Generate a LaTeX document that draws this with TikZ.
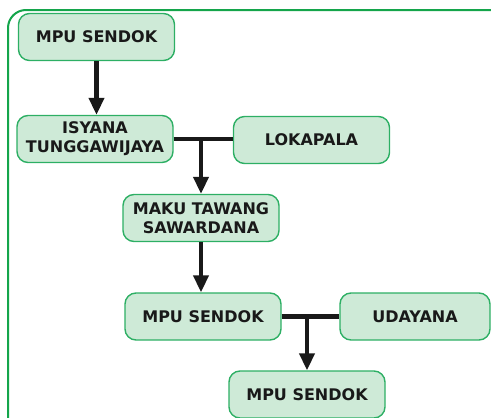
\documentclass[tikz,border=0pt]{standalone}
\usepackage{fontspec}
\setmainfont{DejaVu Sans}
\usetikzlibrary{arrows.meta}

\definecolor{boxfill}{RGB}{206,234,215}
\definecolor{boxline}{RGB}{45,175,100}
\definecolor{framegreen}{RGB}{20,165,75}

\tikzset{
  person/.style={draw=boxline, line width=1.4pt, fill=boxfill, rounded corners=11pt,
    minimum width=156pt, minimum height=47pt, align=center, inner sep=2pt,
    font=\bfseries\fontsize{16}{19}\selectfont, text=black!90},
  link/.style={line width=4.5pt, black!90},
  descent/.style={link, -{Triangle[width=15pt,length=17pt]}}
}

\begin{document}
\begin{tikzpicture}[x=1pt, y=1pt]
		\useasboundingbox (0,0) rectangle (491,-418);
		
		% bingkai
		\begin{scope}
		\clip (0,0) rectangle (491,-418);
		\draw[framegreen, line width=2pt, rounded corners=18pt] (8,-10) rectangle (520,-450);
		\end{scope}
		
		% tokoh
		\node[person] (sendokA) at (96.5,-37) {MPU SENDOK};
		\node[person] (isyana) at (95,-139) {ISYANA\\TUNGGAWIJAYA};
		\node[person] (lokapala) at (311.5,-140) {LOKAPALA};
		\node[person] (maku) at (201,-218) {MAKU TAWANG\\SAWARDANA};
		\node[person] (sendokB) at (203,-316.5) {MPU SENDOK};
		\node[person, minimum width=150pt] (udayana) at (415,-316.5) {UDAYANA};
		\node[person] (sendokC) at (307,-394.5) {MPU SENDOK};
		
		% garis keturunan
		\draw[descent] (sendokA.south) -- (sendokA.south |- isyana.north);
		\draw[link] (isyana.east) -- (isyana.east -| lokapala.west);
		\coordinate (pairA) at (201,-139.5);
		\draw[descent] (pairA) -- (maku.north);
		\draw[descent] (maku.south) -- (maku.south |- sendokB.north);
		\draw[link] (sendokB.east) -- (udayana.west);
		\coordinate (pairB) at (307,-316.5);
		\draw[descent] (pairB) -- (sendokC.north);
		\end{tikzpicture}
\end{document}
